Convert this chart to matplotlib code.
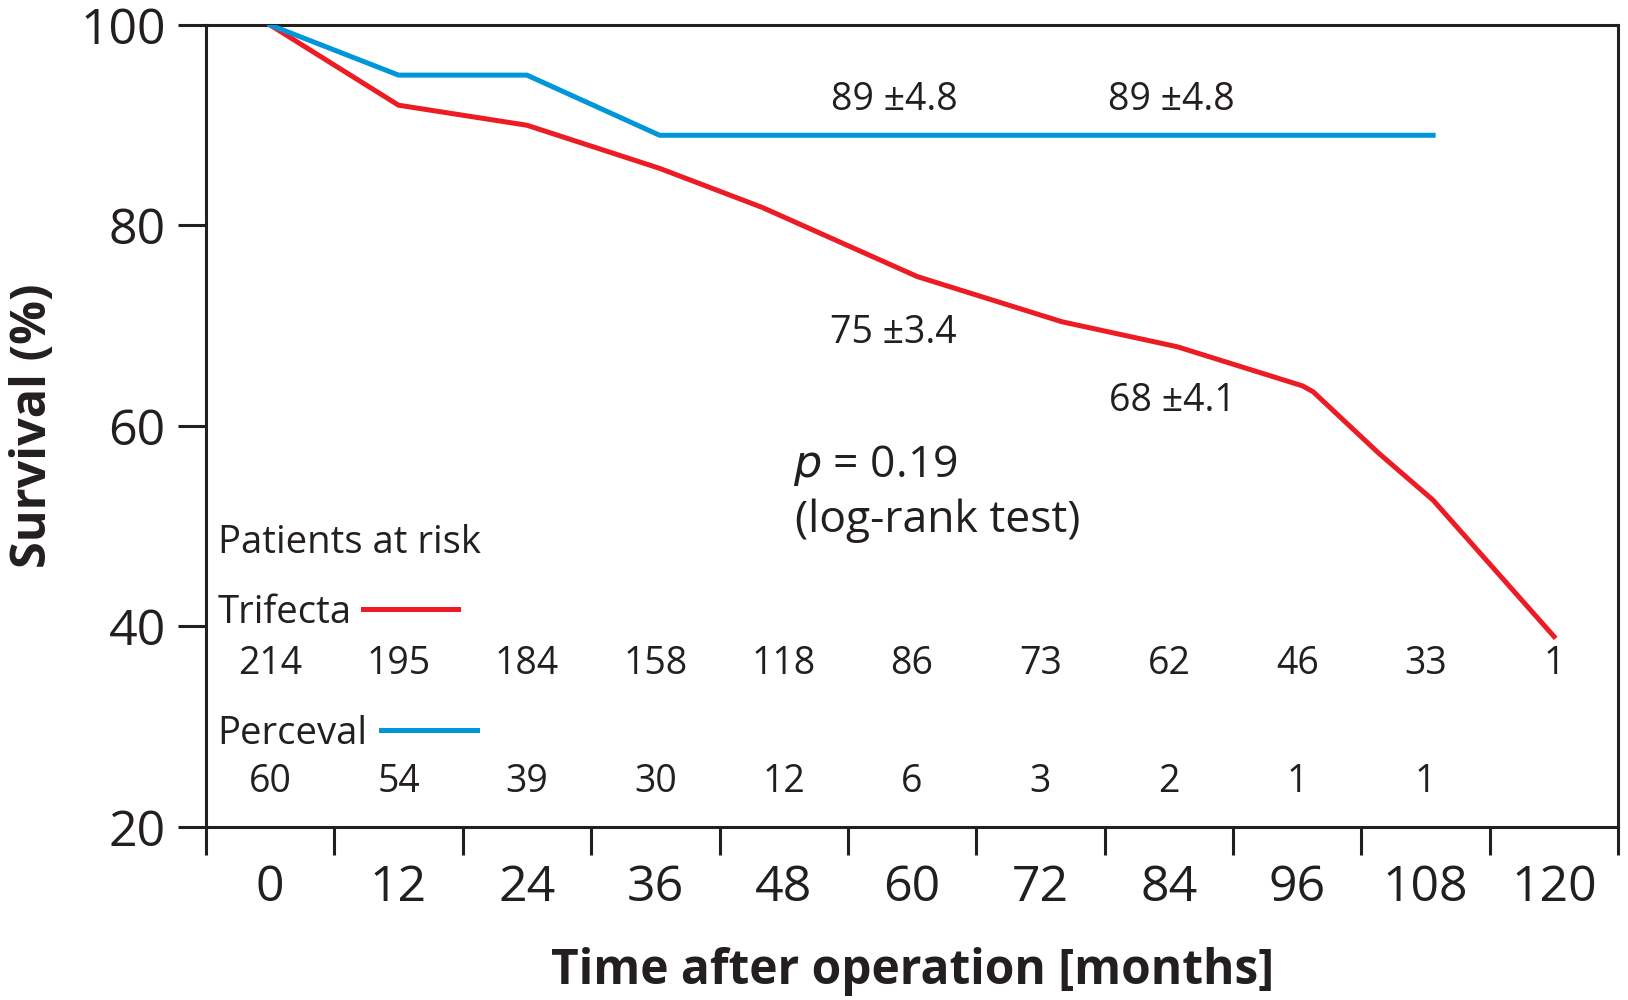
import numpy as np
import matplotlib.pyplot as plt
from matplotlib.ticker import FixedLocator, NullFormatter

plt.rcParams['font.family'] = ['Open Sans', 'DejaVu Sans']

# survival curves (months, %)
trifecta_t = [0, 12, 24, 36.4, 46, 60.5, 74, 84.8, 96.5, 97.5, 103.6, 108.7, 120]
trifecta_s = [100, 92, 90, 85.7, 81.8, 74.9, 70.4, 67.9, 64, 63.4, 57.3, 52.6, 39]
perceval_t = [0, 12, 24, 36.4, 108.7]
perceval_s = [100, 95, 95, 89, 89]

months = [0, 12, 24, 36, 48, 60, 72, 84, 96, 108, 120]
trifecta_risk = [214, 195, 184, 158, 118, 86, 73, 62, 46, 33, 1]
perceval_risk = [60, 54, 39, 30, 12, 6, 3, 2, 1, 1]

red = '#ED1C24'
blue = '#0096DA'
ink = '#231F20'

fig = plt.figure(figsize=(16.28, 10), dpi=100)
ax = fig.add_axes([0.1265, 0.173, 0.8675, 0.802])

ax.plot(trifecta_t, trifecta_s, color=red, lw=3.6, solid_joinstyle='miter', zorder=3)
ax.plot(perceval_t, perceval_s, color=blue, lw=3.6, solid_joinstyle='miter', zorder=3)

ax.set_xlim(-6, 126)
ax.set_ylim(20, 100)

# tick marks between the month labels, labels centred in each interval
ax.xaxis.set_major_locator(FixedLocator(np.arange(-6, 127, 12)))
ax.xaxis.set_major_formatter(NullFormatter())
ax.set_xticks(months, minor=True)
ax.set_xticklabels([str(m) for m in months], minor=True)
ax.tick_params(axis='x', which='major', length=20, width=2.2, color=ink, direction='out')
ax.tick_params(axis='x', which='minor', length=0, pad=26, labelsize=36, labelcolor=ink)

ax.set_yticks([20, 40, 60, 80, 100])
ax.tick_params(axis='y', length=20, width=2.2, color=ink, pad=9, labelsize=36, labelcolor=ink)

for s in ax.spines.values():
    s.set_linewidth(2.2)
    s.set_color(ink)

ax.set_xlabel('Time after operation [months]', fontsize=34.5, fontweight='bold', color=ink, labelpad=25)
ax.set_ylabel('Survival (%)', fontsize=35, fontweight='bold', color=ink, labelpad=16)

fs = 27
ax.text(58.3, 92.5, '89 ±4.8', ha='center', va='center', fontsize=fs, color=ink)
ax.text(84.2, 92.5, '89 ±4.8', ha='center', va='center', fontsize=fs, color=ink)
ax.text(58.2, 69.3, '75 ±3.4', ha='center', va='center', fontsize=fs, color=ink)
ax.text(84.3, 62.5, '68 ±4.1', ha='center', va='center', fontsize=fs, color=ink)

ax.text(48.9, 56.1, r'$p$ = 0.19', ha='left', va='center', fontsize=32, color=ink,
        math_fontfamily='dejavusans')
ax.text(49.1, 50.5, '(log-rank test)', ha='left', va='center', fontsize=32, color=ink)

# patients at risk table
ax.text(-4.9, 48.3, 'Patients at risk', ha='left', va='center', fontsize=27.5, color=ink)
ax.text(-4.9, 41.3, 'Trifecta', ha='left', va='center', fontsize=27.5, color=ink)
ax.plot([8.7, 17.6], [41.7, 41.7], color=red, lw=3.6)
ax.text(-4.9, 29.3, 'Perceval', ha='left', va='center', fontsize=27.5, color=ink)
ax.plot([10.4, 19.3], [29.7, 29.7], color=blue, lw=3.6)

for m, n in zip(months, trifecta_risk):
    ax.text(m, 36.3, str(n), ha='center', va='center', fontsize=fs, color=ink)
for m, n in zip(months, perceval_risk):
    ax.text(m, 24.5, str(n), ha='center', va='center', fontsize=fs, color=ink)

fig.savefig('out.png', dpi=100)
